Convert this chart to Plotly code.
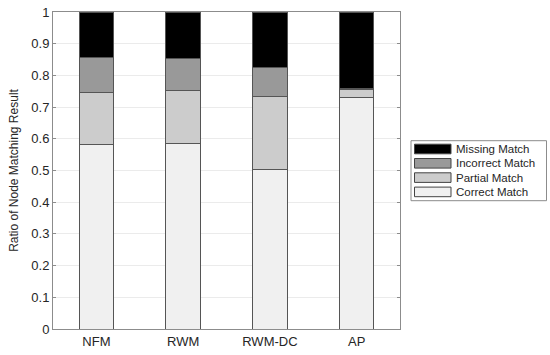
import plotly.graph_objects as go

categories = ["NFM", "RWM", "RWM-DC", "AP"]
correct = [0.583, 0.586, 0.504, 0.730]
partial = [0.164, 0.166, 0.229, 0.024]
incorrect = [0.110, 0.100, 0.091, 0.004]
missing = [0.143, 0.148, 0.176, 0.242]
series_names = ["Correct Match", "Partial Match", "Incorrect Match", "Missing Match"]
series_values = [correct, partial, incorrect, missing]
colors = ["#f0f0f0", "#cccccc", "#999999", "#000000"]
y_ticks = [0, 0.1, 0.2, 0.3, 0.4, 0.5, 0.6, 0.7, 0.8, 0.9, 1]
y_tick_labels = ["0", "0.1", "0.2", "0.3", "0.4", "0.5", "0.6", "0.7", "0.8", "0.9", "1"]

W, H = 550, 355
ML, MR, MT, MB = 53, 150, 12, 26
PW, PH = W - ML - MR, H - MT - MB
FONT = "Arial, Liberation Sans, sans-serif"

fig = go.Figure()
for name, vals, col in zip(series_names, series_values, colors):
    fig.add_trace(go.Bar(
        x=categories, y=vals, name=name,
        marker=dict(color=col, line=dict(color="#555555", width=1)),
        width=0.4, showlegend=False,
    ))


def px_x(p):
    return (p - ML) / PW


def px_y(p):
    return 1 - (p - MT) / PH


# custom legend (box + wide swatches), order top-to-bottom reversed
shapes = [dict(type="rect", xref="paper", yref="paper",
               x0=px_x(411), x1=px_x(546.5), y0=px_y(140.7), y1=px_y(200.7),
               line=dict(color="#8c8c8c", width=1), fillcolor="white", layer="above")]
annotations = []
for i, (name, col) in enumerate(zip(series_names[::-1], colors[::-1])):
    cy = 149 + i * 14.3
    shapes.append(dict(type="rect", xref="paper", yref="paper",
                       x0=px_x(414.5), x1=px_x(451), y0=px_y(cy - 4.8), y1=px_y(cy + 4.8),
                       line=dict(color="#444444", width=1), fillcolor=col, layer="above"))
    annotations.append(dict(xref="paper", yref="paper", x=px_x(453.5), y=px_y(cy),
                            text=name, showarrow=False, xanchor="left", yanchor="middle",
                            font=dict(family=FONT, size=11.5, color="#262626")))

fig.update_layout(
    barmode="stack",
    width=W, height=H,
    margin=dict(l=ML, r=MR, t=MT, b=MB, autoexpand=False),
    paper_bgcolor="white", plot_bgcolor="white",
    font=dict(family=FONT, size=12, color="#262626"),
    shapes=shapes, annotations=annotations,
    xaxis=dict(range=[-0.5, 3.5], showline=True, linecolor="#8c8c8c", linewidth=1,
               mirror=True, ticks="", showgrid=False, automargin=False,
               tickfont=dict(size=13, color="#262626")),
    yaxis=dict(title=dict(text="Ratio of Node Matching Result", font=dict(size=12), standoff=10),
               range=[0, 1], tickvals=y_ticks, ticktext=y_tick_labels, automargin=False,
               showline=True, linecolor="#8c8c8c", linewidth=1, mirror="ticks",
               ticks="inside", ticklen=3, tickcolor="#8c8c8c",
               showgrid=True, gridcolor="#ebebeb", gridwidth=1, zeroline=False,
               tickfont=dict(size=13, color="#262626")),
)

fig.write_html("out.html",
               config={"displayModeBar": False},
               post_script="document.body.style.margin='0px';document.body.style.overflow='hidden';")
